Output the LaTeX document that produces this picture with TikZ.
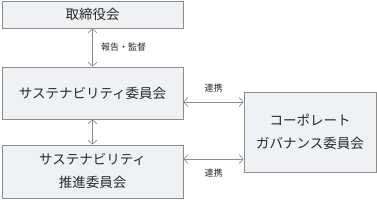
\documentclass[tikz,border=0pt]{standalone}
\usepackage{fontspec}
\setmainfont{Noto Sans CJK JP}
\usetikzlibrary{arrows.meta,positioning,calc}
\definecolor{boxfill}{RGB}{238,242,245}
\definecolor{boxline}{RGB}{140,140,140}
\definecolor{txtgray}{RGB}{40,40,40}

\begin{document}
\begin{tikzpicture}[x=1pt,y=1pt,every node/.style={text=txtgray},
    org/.style={draw=boxline,fill=boxfill,line width=0.8pt,minimum width=181pt,font=\fontsize{13.5}{23}\selectfont,align=center},
    link/.style={boxline,line width=0.7pt,{Straight Barb[length=4pt,width=9pt]}-{Straight Barb[length=4pt,width=9pt]}}]
      \useasboundingbox (0,0) rectangle (377,200);
      \node[org,minimum height=27pt] (bd) at (92.5,185.5) {取締役会};
      \node[org,minimum height=52pt] (sc) at (92.5,107) {サステナビリティ委員会};
      \node[org,minimum height=53pt] (sp) at (92.5,28.5) {サステナビリティ\\推進委員会};
      \node[org,minimum width=132pt,minimum height=80pt] (cg) at (310,68) {コーポレート\\ガバナンス委員会};
      \draw[link] (bd)--(sc) node[midway,right=5pt,font=\fontsize{9}{10}\selectfont]{報告・監督};
      \draw[link] (sc)--(sp);
      \draw[link] ([yshift=-9pt]sc.east)--([yshift=-9pt]sc.east -| cg.west)
            node[midway,above=6pt,font=\fontsize{9}{10}\selectfont]{連携};
      \draw[link] ([yshift=12.5pt]sp.east)--([yshift=12.5pt]sp.east -| cg.west)
            node[midway,below=6pt,font=\fontsize{9}{10}\selectfont]{連携};
    \end{tikzpicture}
\end{document}
